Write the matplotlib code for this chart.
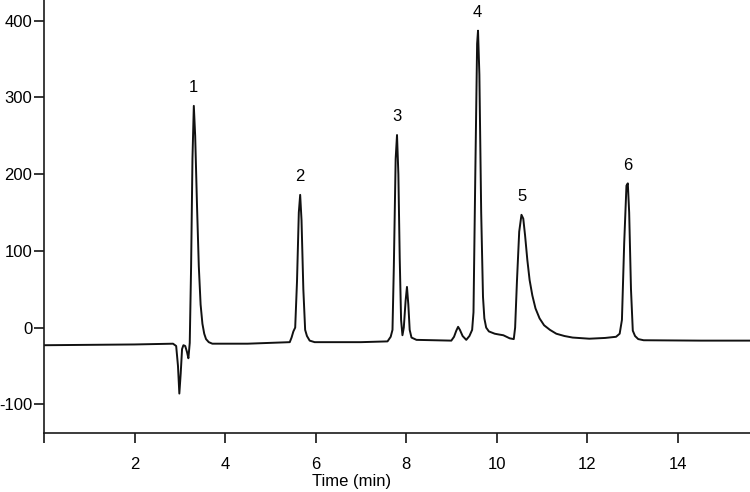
import matplotlib.pyplot as plt

plt.rcParams['font.family'] = ['Liberation Sans', 'DejaVu Sans']
plt.rcParams['axes.unicode_minus'] = False

# chromatogram trace (time in min, detector signal)
time = [0.0, 2.0, 2.85, 2.92, 2.96, 2.99, 3.02, 3.05, 3.08, 3.12, 3.16, 3.19,
        3.22, 3.25, 3.28, 3.31, 3.34, 3.38, 3.42, 3.46, 3.50, 3.54, 3.58, 3.64,
        3.72, 4.5, 5.43, 5.47, 5.51, 5.55, 5.59, 5.63, 5.66, 5.69, 5.73, 5.77,
        5.81, 5.87, 5.98, 7.0, 7.59, 7.66, 7.70, 7.73, 7.77, 7.80, 7.83, 7.86,
        7.89, 7.92, 7.95, 7.99, 8.02, 8.05, 8.08, 8.12, 8.23, 9.0, 9.06, 9.11,
        9.15, 9.19, 9.25, 9.33, 9.40, 9.46, 9.49, 9.53, 9.57, 9.59, 9.62, 9.66,
        9.70, 9.73, 9.77, 9.83, 9.96, 10.05, 10.15, 10.29, 10.38, 10.41, 10.45,
        10.50, 10.55, 10.59, 10.63, 10.68, 10.73, 10.79, 10.86, 10.95, 11.05,
        11.18, 11.32, 11.5, 11.68, 12.05, 12.4, 12.64, 12.72, 12.77, 12.82,
        12.87, 12.90, 12.93, 12.97, 13.01, 13.06, 13.13, 13.25, 14.5, 15.6]
signal = [-23, -22, -21, -24, -50, -86, -60, -28, -23, -24, -32, -40,
          -20, 80, 220, 289, 250, 160, 80, 30, 5, -8, -15, -19,
          -21, -21, -19, -13, -5, 0, 60, 150, 173, 140, 50, -3,
          -11, -17, -19, -19, -18, -12, -3, 80, 220, 251, 200, 90,
          10, -10, 0, 35, 53, 30, -3, -13, -16, -17, -12, -4,
          1, -3, -11, -16, -11, -3, 20, 200, 370, 387, 330, 150,
          40, 12, 0, -5, -8, -9, -10, -14, -15, 0, 60,
          125, 147, 142, 120, 88, 62, 42, 25, 12, 3,
          -3, -8, -11, -13, -14.5, -13.5, -12, -8, 10, 110,
          185, 188, 150, 50, -4, -11, -15, -16.5, -17, -17]

peak_labels = ['1', '2', '3', '4', '5', '6']
peak_times = [3.29, 5.66, 7.80, 9.58, 10.56, 12.89]
peak_heights = [289, 173, 251, 387, 147, 188]

fig = plt.figure(figsize=(7.5, 4.92), dpi=100)
ax = fig.add_axes([0.0587, 0.119, 0.9413, 0.881])

ax.plot(time, signal, color='#111111', lw=1.4, solid_joinstyle='round')

for lab, t, h in zip(peak_labels, peak_times, peak_heights):
    ax.text(t, h + 14, lab, ha='center', va='bottom', fontsize=12)

ax.set_xlim(0, 15.6)
ax.set_ylim(-138, 427)
ax.set_xticks([0, 2, 4, 6, 8, 10, 12, 14])
ax.set_xticklabels(['', '2', '4', '6', '8', '10', '12', '14'])
ax.set_yticks([-100, 0, 100, 200, 300, 400])

ax.spines['top'].set_visible(False)
ax.spines['right'].set_visible(False)
for s in ['left', 'bottom']:
    ax.spines[s].set_linewidth(1.2)
    ax.spines[s].set_color('#1a1a1a')

ax.tick_params(axis='x', direction='out', length=7, width=1.1, pad=10, labelsize=12)
ax.tick_params(axis='y', direction='out', length=7, width=1.1, pad=1.5, labelsize=12)

ax.set_xlabel('Time (min)', fontsize=12, va='top')
ax.xaxis.set_label_coords(0.436, -0.094)

fig.savefig('out.png', dpi=100)
